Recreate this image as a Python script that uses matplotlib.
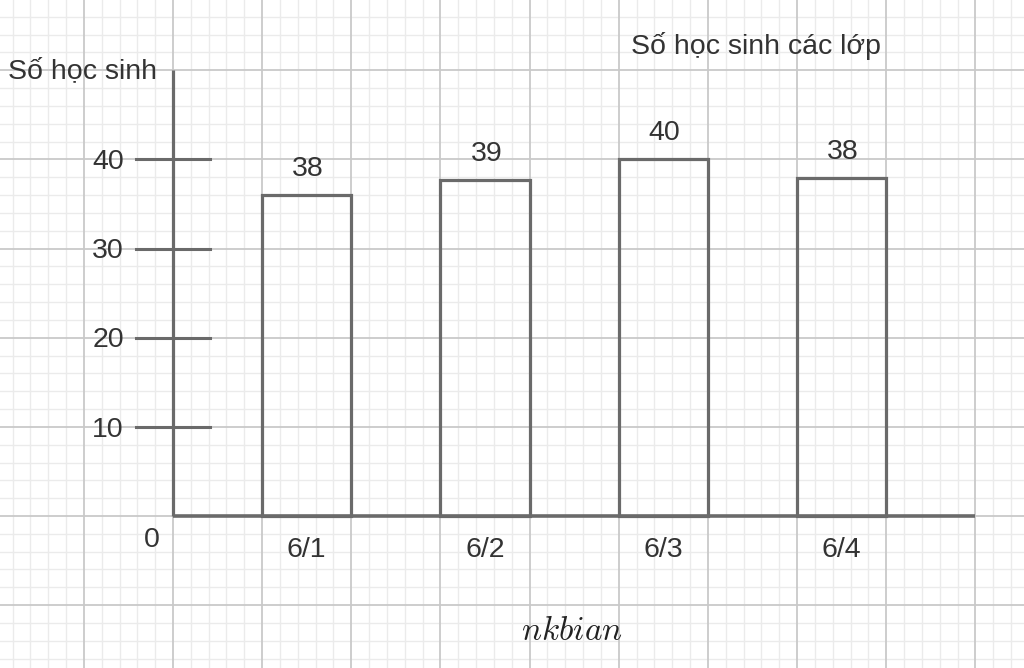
import matplotlib
matplotlib.use("Agg")
import matplotlib.pyplot as plt
import numpy as np

# ---- data ----
categories = ["6/1", "6/2", "6/3", "6/4"]
bar_heights = [36.0, 37.7, 40.0, 37.9]      # heights as drawn
value_labels = ["38", "39", "40", "38"]      # numbers written above bars
y_ticks = [10, 20, 30, 40]
y_tick_labels = ["10", "20", "30", "40"]
title = "Số học sinh các lớp"
y_title = "Số học sinh"
watermark = "nkbian"

# ---- style ----
LINE = "#6a6a6a"
TEXT = "#333333"
MAJOR = "#c9c9c9"
MINOR = "#ebebeb"
FONT = ["Liberation Sans", "DejaVu Sans"]
FS = 20.5

plt.rcParams["mathtext.fontset"] = "cm"

fig = plt.figure(figsize=(10.24, 6.68), dpi=100)
ax = fig.add_axes([0, 0, 1, 1])

# coordinate system: x in grid cells (origin at y axis), y in values (10 per cell)
cell_px = 89.15
x0_px, y0_px = 173, 516
ax.set_xlim(-x0_px / cell_px, (1024 - x0_px) / cell_px)
ax.set_ylim(-(668 - y0_px) / (cell_px / 10), y0_px / (cell_px / 10))

# grid paper
for u in np.arange(-2, 10.01, 0.2):
    is_major = abs(u - round(u)) < 1e-6
    ax.axvline(u, color=MAJOR if is_major else MINOR,
               lw=1.3 if is_major else 1.0, zorder=1 if is_major else 0)
for v in np.arange(-20, 60.01, 2):
    is_major = abs(v / 10 - round(v / 10)) < 1e-6
    ax.axhline(v, color=MAJOR if is_major else MINOR,
               lw=1.3 if is_major else 1.0, zorder=1 if is_major else 0)

ax.set_axis_off()

# axes lines
ax.plot([0, 0], [0, 50], color=LINE, lw=2.3, solid_capstyle="butt", zorder=3)
ax.plot([0, 9], [0, 0], color=LINE, lw=2.6, solid_capstyle="butt", zorder=3)

# y ticks and labels
for t, lab in zip(y_ticks, y_tick_labels):
    ax.plot([-0.42, 0.41], [t, t], color=LINE, lw=2.2, zorder=3)
    ax.text(-0.55, t - 0.3, lab, ha="right", va="center", fontsize=FS,
            family=FONT, color=TEXT)
ax.text(-0.24, -2.7, "0", ha="center", va="center", fontsize=FS,
        family=FONT, color=TEXT)

# bars
positions = [1.5 + 2 * i for i in range(len(categories))]
ax.bar(positions, bar_heights, width=1.0, fill=False, edgecolor=LINE,
       linewidth=2.3, zorder=3)

for x, h, lab, cat in zip(positions, bar_heights, value_labels, categories):
    ax.annotate(lab, (x, h), xytext=(1, 19), textcoords="offset points",
                ha="center", va="center", fontsize=FS, family=FONT, color=TEXT)
    ax.text(x, -3.8, cat, ha="center", va="center", fontsize=FS,
            family=FONT, color=TEXT)

# titles
ax.text(-1.85, 49.9, y_title, ha="left", va="center", fontsize=FS,
        family=FONT, color=TEXT)
ax.text(5.14, 52.7, title, ha="left", va="center", fontsize=FS,
        family=FONT, color=TEXT)

ax.text(4.48, -12.8, r"$" + watermark + r"$", ha="center", va="center",
        fontsize=24, color="#222222")

fig.savefig("out.png", dpi=100)
